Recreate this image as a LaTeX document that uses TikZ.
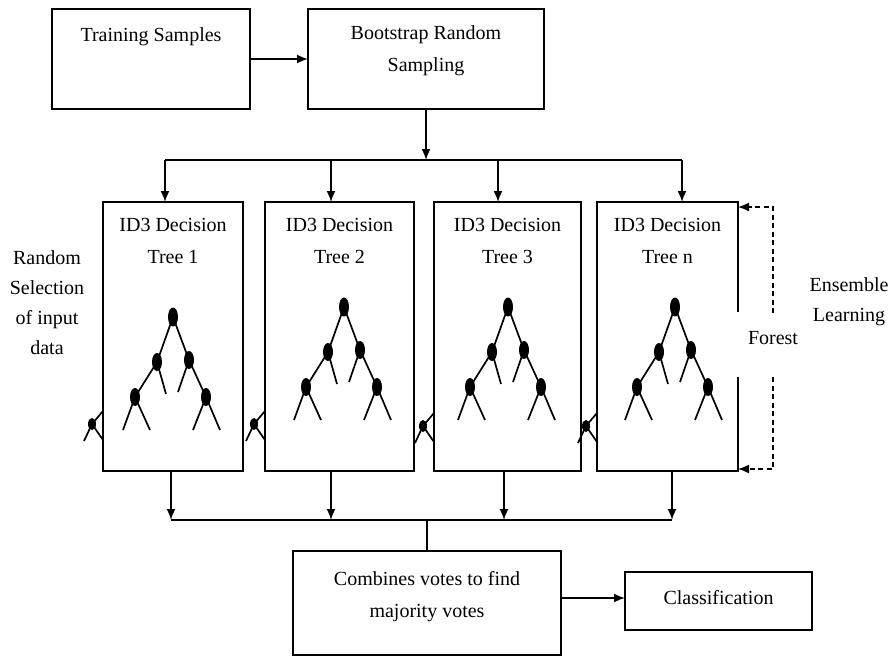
\documentclass[tikz,border=0pt]{standalone}
\usepackage{fontspec}
\setmainfont{Liberation Serif}
\usetikzlibrary{arrows.meta,calc}
\tikzset{
  bx/.style={draw, line width=1.8pt, inner sep=0pt, outer sep=0pt},
  nobox/.style={draw=none, inner sep=0pt, outer sep=0pt},
  arr/.style={line width=1.7pt, -{Latex[length=11pt,width=9pt]}},
  ln/.style={line width=1.7pt},
  tl/.style={line width=1.7pt},
  lbl/.style={font=\fontsize{20}{32}\selectfont, align=center, inner sep=0pt},
  slbl/.style={font=\fontsize{20}{30}\selectfont, align=center, inner sep=0pt},
  dsh/.style={line width=1.4pt, dash pattern=on 5pt off 3.5pt, -{Latex[length=11pt,width=9pt]}}
}
\newcommand\idtree[2]{%
  \begin{scope}[shift={(#1,#2)}]
    \draw[tl] (0,0) -- (-16,45) -- (-38,80) -- (-50,113);
    \draw[tl] (-38,80) -- (-23,113);
    \draw[tl] (-16,45) -- (-7,77);
    \draw[tl] (0,0) -- (16,43) -- (33,80) -- (20,113);
    \draw[tl] (33,80) -- (47,113);
    \draw[tl] (16,43) -- (5,75);
    \fill (0,0) ellipse [x radius=5pt, y radius=9.5pt];
    \fill (-16,45) ellipse [x radius=5pt, y radius=9pt];
    \fill (16,43) ellipse [x radius=5pt, y radius=9pt];
    \fill (-38,80) ellipse [x radius=5pt, y radius=9pt];
    \fill (33,80) ellipse [x radius=5pt, y radius=9pt];
  \end{scope}}
\newcommand\treefrag[1]{%
  \draw[tl] ($(#1)+(-11,0)$) -- ($(#1)+(0,-13)$);
  \draw[tl] ($(#1)+(-11,0)$) -- ($(#1)+(-19,17)$);
  \draw[tl] ($(#1)+(-11,0)$) -- ($(#1)+(0,16)$);
  \fill ($(#1)+(-11,0)$) ellipse [x radius=4pt, y radius=6pt];}
\begin{document}
\begin{tikzpicture}[x=1pt,y=-1pt]
\useasboundingbox (0,0) rectangle (894,662);
\fill[white] (0,0) rectangle (894,662);

% top boxes
\node[bx, minimum width=198pt, minimum height=100pt] (tr) at (151,59) {};
\node[lbl] (trt) at (151,37) {Training Samples};
\node[bx, minimum width=236pt, minimum height=100pt] (bs) at (426,59) {};
\node[lbl] (bst) at (426,51) {Bootstrap Random\\Sampling};
\draw[arr] (tr.east) -- (bs.west);

% tree boxes
\node[bx, minimum width=140pt, minimum height=269pt] (t1) at (173,336.5) {};
\node[bx, minimum width=149pt, minimum height=269pt] (t2) at (339.5,336.5) {};
\node[bx, minimum width=147pt, minimum height=269pt] (t3) at (507.5,336.5) {};
\node[nobox, minimum width=141pt, minimum height=269pt] (t4) at (667.5,336.5) {};
\draw[line width=1.8pt] (t4.east |- 0,312) -- (t4.north east) -- (t4.north west)
  -- (t4.south west) -- (t4.south east) -- (t4.east |- 0,377);

\node[lbl] (t1t) at (173,241) {ID3 Decision\\Tree 1};
\node[lbl] (t2t) at (339.5,241) {ID3 Decision\\Tree 2};
\node[lbl] (t3t) at (507.5,241) {ID3 Decision\\Tree 3};
\node[lbl] (t4t) at (667.5,241) {ID3 Decision\\Tree n};

\idtree{173}{317}
\idtree{344}{307}
\idtree{508}{307}
\idtree{675}{307}

\coordinate (f1) at (t1.west |- 0,424);
\coordinate (f2) at (t2.west |- 0,424);
\coordinate (f3) at (t3.west |- 0,426);
\coordinate (f4) at (t4.west |- 0,426);
\treefrag{f1}
\treefrag{f2}
\treefrag{f3}
\treefrag{f4}

% distribution bus
\coordinate (bj) at (426,160);
\draw[arr] (bs.south) -- (bj);
\coordinate (d1) at (165,160);
\coordinate (d2) at (331,160);
\coordinate (d3) at (498,160);
\coordinate (d4) at (682,160);
\draw[ln] (d1) -- (d4);
\draw[arr] (d1) -- (d1 |- t1.north);
\draw[arr] (d2) -- (d2 |- t2.north);
\draw[arr] (d3) -- (d3 |- t3.north);
\draw[arr] (d4) -- (d4 |- t4.north);

% side labels
\node[slbl] (rs) at (47,303) {Random\\Selection\\of input\\data};
\node[lbl] (fo) at (773,338) {Forest};
\node[slbl] (el) at (849,302) {Ensemble\\Learning};

\coordinate (da) at (773,313);
\coordinate (db) at (773,377);
\draw[dsh] (da) |- ([yshift=-5pt]t4.north east);
\draw[dsh] (db) |- ([yshift=2pt]t4.south east);

% collection bus
\coordinate (u1) at (171,520);
\coordinate (u2) at (331,520);
\coordinate (u3) at (504,520);
\coordinate (u4) at (672,520);
\draw[arr] (u1 |- t1.south) -- (u1);
\draw[arr] (u2 |- t2.south) -- (u2);
\draw[arr] (u3 |- t3.south) -- (u3);
\draw[arr] (u4 |- t4.south) -- (u4);
\draw[ln] (u1) -- (u4);

% bottom boxes
\node[bx, minimum width=268pt, minimum height=104pt] (cb) at (427,603) {};
\node[lbl] (cbt) at (427,597) {Combines votes to find\\majority votes};
\coordinate (uj) at (427,520);
\draw[ln] (uj) -- (cb.north);
\node[bx, minimum width=187pt, minimum height=58pt] (cl) at (718.5,601) {};
\node[lbl] (clt) at (718.5,598) {Classification};
\draw[arr] (cb.east |- 0,598) -- (cl.west |- 0,598);
\end{tikzpicture}
\end{document}
